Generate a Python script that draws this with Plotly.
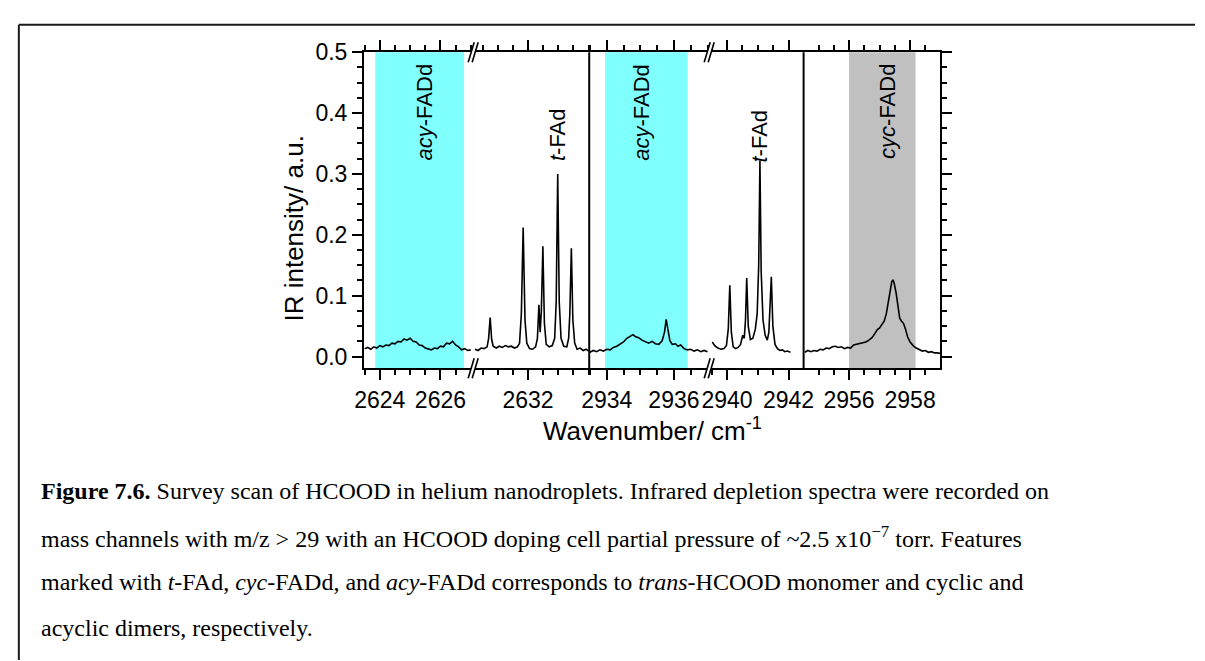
import plotly.graph_objects as go

# ---------------------------------------------------------------------------
# Spectral data (wavenumber in cm^-1, IR depletion intensity in a.u.)
# ---------------------------------------------------------------------------
seg_a_x = [2623.50, 2623.60, 2623.70, 2623.80, 2623.90, 2624.00, 2624.10, 2624.20,
           2624.30, 2624.40, 2624.50, 2624.60, 2624.70, 2624.80, 2624.90, 2625.00,
           2625.10, 2625.20, 2625.30, 2625.40, 2625.50, 2625.60, 2625.70, 2625.80,
           2625.90, 2626.00, 2626.10, 2626.20, 2626.30, 2626.40, 2626.50, 2626.60,
           2626.70, 2626.80, 2626.90, 2627.00]
seg_a_y = [0.013, 0.015, 0.012, 0.016, 0.014, 0.018, 0.016, 0.019,
           0.018, 0.022, 0.021, 0.025, 0.024, 0.029, 0.027, 0.030,
           0.025, 0.024, 0.019, 0.018, 0.014, 0.013, 0.011, 0.014,
           0.013, 0.017, 0.016, 0.022, 0.021, 0.025, 0.019, 0.016,
           0.011, 0.013, 0.010, 0.011]

seg_b_x = [2630.25, 2630.35, 2630.45, 2630.55, 2630.65, 2630.70, 2630.75, 2630.80,
           2630.85, 2630.95, 2631.05, 2631.15, 2631.25, 2631.35, 2631.45, 2631.55,
           2631.65, 2631.72, 2631.78, 2631.84, 2631.90, 2631.96, 2632.05, 2632.15,
           2632.25, 2632.31, 2632.36, 2632.40, 2632.44, 2632.49, 2632.54, 2632.60,
           2632.70, 2632.80, 2632.88, 2632.93, 2632.98, 2633.03, 2633.09, 2633.18,
           2633.28, 2633.34, 2633.38, 2633.43, 2633.48, 2633.54, 2633.62, 2633.72,
           2633.82, 2633.92, 2634.00]
seg_b_y = [0.012, 0.010, 0.014, 0.013, 0.016, 0.030, 0.064, 0.028,
           0.017, 0.014, 0.017, 0.015, 0.018, 0.016, 0.017, 0.014,
           0.016, 0.022, 0.070, 0.212, 0.060, 0.022, 0.013, 0.012,
           0.016, 0.030, 0.085, 0.040, 0.075, 0.181, 0.055, 0.020,
           0.016, 0.018, 0.030, 0.090, 0.300, 0.090, 0.030, 0.017,
           0.016, 0.030, 0.070, 0.178, 0.060, 0.022, 0.012, 0.014,
           0.010, 0.012, 0.009]

seg_c_x = [2933.50, 2933.60, 2933.70, 2933.80, 2933.90, 2934.00, 2934.10, 2934.20,
           2934.30, 2934.40, 2934.50, 2934.60, 2934.70, 2934.78, 2934.85, 2934.95,
           2935.05, 2935.15, 2935.25, 2935.35, 2935.45, 2935.55, 2935.65, 2935.72,
           2935.77, 2935.82, 2935.88, 2935.95, 2936.05, 2936.12, 2936.20, 2936.30,
           2936.40, 2936.50, 2936.60, 2936.70, 2936.80, 2936.90, 2937.00]
seg_c_y = [0.007, 0.010, 0.008, 0.011, 0.009, 0.012, 0.011, 0.015,
           0.017, 0.021, 0.024, 0.030, 0.033, 0.036, 0.033, 0.031,
           0.027, 0.025, 0.022, 0.025, 0.021, 0.020, 0.026, 0.040,
           0.061, 0.045, 0.026, 0.020, 0.021, 0.017, 0.019, 0.013,
           0.011, 0.012, 0.009, 0.011, 0.008, 0.010, 0.008]

seg_d_x = [2939.52, 2939.60, 2939.70, 2939.80, 2939.90, 2939.98, 2940.04, 2940.09,
           2940.14, 2940.20, 2940.28, 2940.36, 2940.44, 2940.51, 2940.56, 2940.60,
           2940.64, 2940.69, 2940.76, 2940.84, 2940.92, 2940.98, 2941.03, 2941.07,
           2941.11, 2941.17, 2941.24, 2941.31, 2941.36, 2941.40, 2941.44, 2941.49,
           2941.56, 2941.64, 2941.72, 2941.80, 2941.88, 2941.96, 2942.06]
seg_d_y = [0.024, 0.018, 0.014, 0.012, 0.013, 0.018, 0.045, 0.117,
           0.040, 0.016, 0.013, 0.015, 0.020, 0.035, 0.030, 0.060,
           0.129, 0.050, 0.028, 0.030, 0.045, 0.070, 0.150, 0.322,
           0.140, 0.060, 0.035, 0.027, 0.040, 0.075, 0.131, 0.050,
           0.020, 0.013, 0.010, 0.011, 0.008, 0.009, 0.007]

seg_e_x = [2954.55, 2954.65, 2954.75, 2954.85, 2954.95, 2955.05, 2955.15, 2955.25,
           2955.35, 2955.45, 2955.55, 2955.65, 2955.75, 2955.85, 2955.95, 2956.05,
           2956.15, 2956.25, 2956.35, 2956.45, 2956.55, 2956.65, 2956.75, 2956.85,
           2956.92, 2957.00, 2957.08, 2957.15, 2957.22, 2957.28, 2957.34, 2957.40,
           2957.44, 2957.48, 2957.54, 2957.60, 2957.66, 2957.72, 2957.78, 2957.85,
           2957.92, 2958.00, 2958.10, 2958.20, 2958.30, 2958.40, 2958.50, 2958.60,
           2958.70, 2958.80, 2958.90, 2959.00]
seg_e_y = [0.007, 0.010, 0.008, 0.010, 0.009, 0.012, 0.011, 0.014,
           0.013, 0.016, 0.017, 0.015, 0.016, 0.013, 0.015, 0.014,
           0.019, 0.020, 0.022, 0.023, 0.024, 0.027, 0.031, 0.038,
           0.044, 0.047, 0.052, 0.058, 0.070, 0.090, 0.110, 0.123,
           0.126, 0.120, 0.105, 0.082, 0.063, 0.058, 0.055, 0.045,
           0.032, 0.024, 0.018, 0.014, 0.011, 0.009, 0.010, 0.007,
           0.008, 0.006, 0.006, 0.005]

# Axis segments: wavenumber range and major tick labels of each broken piece
seg_ranges = [[2623.48, 2627.08], [2630.19, 2634.02], [2933.48, 2937.05],
              [2939.42, 2942.49], [2954.51, 2958.99]]
seg_tickvals = [[2624, 2626], [2632], [2934, 2936], [2940, 2942], [2956, 2958]]
seg_ticktext = [["2624", "2626"], ["2632"], ["2934", "2936"],
                ["2940", "2942"], ["2956", "2958"]]

y_range = [-0.0193, 0.5]

# Highlighted bands: (axis, start, end, colour)
bands = [("x", 2623.85, 2626.78, "#80FFFF"),
         ("x3", 2933.95, 2936.41, "#80FFFF"),
         ("x5", 2956.00, 2958.18, "#C0C0C0")]

# Band / peak labels: (axis, wavenumber, intensity, text)
labels = [("x", 2625.48, 0.402, "<i>acy</i>-FADd"),
          ("x2", 2632.98, 0.365, "<i>t</i>-FAd"),
          ("x3", 2935.05, 0.402, "<i>acy</i>-FADd"),
          ("x4", 2941.07, 0.363, "<i>t</i>-FAd"),
          ("x5", 2957.28, 0.402, "<i>cyc</i>-FADd")]

caption_lines = [
    "<b>Figure 7.6.</b> Survey scan of HCOOD in helium nanodroplets. Infrared depletion spectra were recorded on",
    "mass channels with m/z > 29 with an HCOOD doping cell partial pressure of ~2.5 x10<sup>\u22127</sup> torr. Features",
    "marked with <i>t</i>-FAd, <i>cyc</i>-FADd, and <i>acy</i>-FADd corresponds to <i>trans</i>-HCOOD monomer and cyclic and",
    "acyclic dimers, respectively.",
]

# ---------------------------------------------------------------------------
# Layout geometry (pixels in a 1205 x 661 canvas)
# ---------------------------------------------------------------------------
W, H = 1205, 661


def px(x):
    return x / W


def py(y):
    return 1 - y / H


seg_px = [[360, 471], [471, 589], [589, 711], [711, 807], [807, 946]]
plot_top, plot_bottom = 40, 363
y_domain = [py(plot_bottom), py(plot_top)]

SANS = "Liberation Sans, Arial, sans-serif"
SERIF = "Liberation Serif, Times New Roman, serif"

axis_names = ["x", "x2", "x3", "x4", "x5"]
segments_x = [seg_a_x, seg_b_x, seg_c_x, seg_d_x, seg_e_x]
segments_y = [seg_a_y, seg_b_y, seg_c_y, seg_d_y, seg_e_y]

fig = go.Figure()
for i, (xs, ys) in enumerate(zip(segments_x, segments_y)):
    fig.add_trace(go.Scatter(
        x=xs, y=ys, mode="lines",
        line=dict(color="black", width=1.6),
        xaxis=axis_names[i], yaxis="y2" if i == 4 else "y",
        hoverinfo="skip", showlegend=False,
    ))

tick_style = dict(
    showline=True, linecolor="black", linewidth=2,
    ticks="outside", ticklen=10, tickwidth=2, tickcolor="black",
    showgrid=False, zeroline=False,
    tickfont=dict(family=SANS, size=23, color="black"),
)

layout = dict(
    width=W, height=H, autosize=False,
    margin=dict(l=0, r=0, t=0, b=0),
    paper_bgcolor="white", plot_bgcolor="white",
    showlegend=False,
)

for i, name in enumerate(axis_names):
    key = "xaxis" if i == 0 else f"xaxis{i + 1}"
    layout[key] = dict(
        tick_style,
        domain=[px(seg_px[i][0]), px(seg_px[i][1])],
        range=seg_ranges[i],
        anchor="y2" if i == 4 else "y",
        mirror="ticks",
        tickmode="array", tickvals=seg_tickvals[i], ticktext=seg_ticktext[i],
        minor=dict(tickmode="linear", tick0=0, dtick=0.5, ticks="outside",
                   ticklen=5, tickwidth=1.5, tickcolor="black", showgrid=False),
    )

y_minor = dict(tickmode="linear", tick0=0, dtick=0.025, ticks="outside",
               ticklen=5, tickwidth=1.5, tickcolor="black", showgrid=False)

layout["yaxis"] = dict(
    tick_style, domain=y_domain, range=y_range, anchor="x",
    tickmode="linear", tick0=0, dtick=0.1, tickformat=".1f",
    minor=y_minor,
)
layout["yaxis2"] = dict(
    tick_style, domain=y_domain, range=y_range, anchor="x5", side="right",
    tickmode="linear", tick0=0, dtick=0.1, showticklabels=False,
    minor=y_minor,
)

shapes = []
# shaded bands
for ax, x0, x1, col in bands:
    shapes.append(dict(type="rect", xref=ax, yref="y domain", x0=x0, x1=x1,
                       y0=0, y1=1, fillcolor=col, line=dict(width=0), layer="below"))

# solid separators between the three spectral windows
for ax in ["x3", "x5"]:
    shapes.append(dict(type="line", xref=f"{ax} domain", yref="y domain",
                       x0=0, x1=0, y0=0, y1=1, line=dict(color="black", width=2)))

# "//" axis-break marks
for ax in ["x2", "x4"]:
    for yy in [0, 1]:
        common = dict(xref=f"{ax} domain", yref="y domain",
                      xsizemode="pixel", ysizemode="pixel",
                      xanchor=0, yanchor=yy)
        shapes.append(dict(common, type="path",
                           path="M -5,-10 L 1,10 L 5,10 L -1,-10 Z",
                           fillcolor="white", line=dict(width=0)))
        shapes.append(dict(common, type="path", path="M -5,-10 L 1,10",
                           line=dict(color="black", width=1.6)))
        shapes.append(dict(common, type="path", path="M -1,-10 L 5,10",
                           line=dict(color="black", width=1.6)))

# page frame
shapes.append(dict(type="line", xref="paper", yref="paper",
                   x0=px(9), x1=1, y0=py(12), y1=py(12),
                   line=dict(color="#1a1a1a", width=2)))
shapes.append(dict(type="line", xref="paper", yref="paper",
                   x0=px(9), x1=px(9), y0=py(12), y1=0,
                   line=dict(color="#1a1a1a", width=2)))
layout["shapes"] = shapes

annotations = []
for ax, xv, yv, txt in labels:
    annotations.append(dict(
        xref=ax, yref="y", x=xv, y=yv, text=txt, textangle=-90,
        showarrow=False, xanchor="center", yanchor="middle",
        font=dict(family=SANS, size=22, color="black"),
    ))

# axis titles
annotations.append(dict(
    xref="paper", yref="paper", x=px(289), y=py(220),
    text="IR intensity/ a.u.", textangle=-90, showarrow=False,
    xanchor="center", yanchor="middle",
    font=dict(family=SANS, size=26, color="black"),
))
annotations.append(dict(
    xref="paper", yref="paper", x=px(653), y=py(426),
    text="Wavenumber/ cm<sup>-1</sup>", showarrow=False,
    xanchor="center", yanchor="middle",
    font=dict(family=SANS, size=26, color="black"),
))

# figure caption
for line, yc in zip(caption_lines, [488, 535, 581, 628]):
    annotations.append(dict(
        xref="paper", yref="paper", x=px(29), y=py(yc),
        text=line, showarrow=False, xanchor="left", yanchor="middle", align="left",
        font=dict(family=SERIF, size=24, color="black"),
    ))
layout["annotations"] = annotations

fig.update_layout(layout)
fig.write_html("out.html", config=dict(displayModeBar=False))
